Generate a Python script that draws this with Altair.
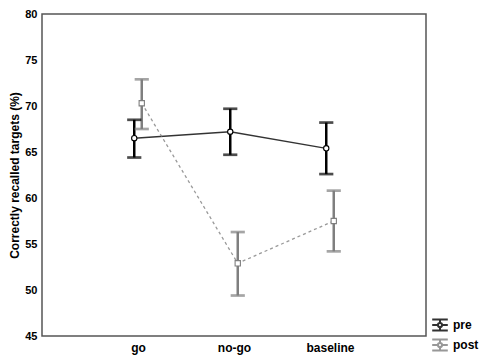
import altair as alt
import pandas as pd

conditions = ["go", "no-go", "baseline"]
phases = ["pre", "post"]
pre_mean = [66.5, 67.2, 65.4]
pre_lo = [64.4, 64.7, 62.6]
pre_hi = [68.5, 69.7, 68.2]
post_mean = [70.3, 52.9, 57.5]
post_lo = [67.5, 49.4, 54.2]
post_hi = [72.9, 56.3, 60.8]

rows = []
for i, c in enumerate(conditions):
    rows.append(dict(cond=c, phase="pre", mean=pre_mean[i], lo=pre_lo[i], hi=pre_hi[i]))
for i, c in enumerate(conditions):
    rows.append(dict(cond=c, phase="post", mean=post_mean[i], lo=post_lo[i], hi=post_hi[i]))
df = pd.DataFrame(rows)

FONT = "Liberation Sans"
glyph = ("M-1.3,-0.9H1.3M-1.3,0.9H1.3M0,-0.9V-0.35M0,0.35V0.9M-1.3,0H-0.35M0.35,0H1.3"
         "M0.35,0A0.35,0.35 0 1,1 -0.35,0A0.35,0.35 0 1,1 0.35,0")

x = alt.X("cond:N", sort=conditions,
          scale=alt.Scale(type="point", padding=1),
          axis=alt.Axis(title=None, labelAngle=0, ticks=False, domain=False,
                        labelFont=FONT, labelFontWeight="bold", labelFontSize=12,
                        labelColor="#000", labelPadding=6))
xoff = alt.XOffset("phase:N", scale=alt.Scale(domain=phases, range=[-7.5, 7.5]))
y_scale = alt.Scale(domain=[45, 80], nice=False, zero=False)
y = alt.Y("mean:Q", scale=y_scale,
          axis=alt.Axis(title="Correctly recalled targets (%)", values=list(range(45, 81, 5)),
                        grid=False, ticks=False, domain=False,
                        labelFont=FONT, labelFontWeight="bold", labelFontSize=11,
                        labelColor="#000", labelPadding=5,
                        titleFont=FONT, titleFontWeight="bold", titleFontSize=12,
                        titleColor="#000", titlePadding=3))

color = alt.Color("phase:N", scale=alt.Scale(domain=phases, range=["#000000", "#7f7f7f"]),
                  legend=alt.Legend(title=None, orient="none", legendX=391, legendY=304,
                                    symbolType=glyph, symbolSize=144, symbolStrokeWidth=2,
                                    symbolFillColor="white", labelFont=FONT,
                                    labelFontWeight="bold", labelFontSize=12,
                                    labelColor="#000", rowPadding=0, labelOffset=6))

base = alt.Chart(df)

line_pre = base.transform_filter(alt.datum.phase == "pre").mark_line(
    strokeWidth=1.4, opacity=0.8).encode(x=x, xOffset=xoff, y=y, color=color)
line_post = base.transform_filter(alt.datum.phase == "post").mark_line(
    strokeWidth=1.3, opacity=0.8, strokeDash=[3, 3]).encode(x=x, xOffset=xoff, y=y, color=color)
bars = base.mark_rule(strokeWidth=2.5).encode(
    x=x, xOffset=xoff, y=alt.Y("lo:Q", scale=y_scale), y2="hi:Q", color=color)
caps_lo = base.mark_tick(size=12, thickness=0.5, filled=False, strokeWidth=2.2).encode(
    x=x, xOffset=xoff, y=alt.Y("lo:Q", scale=y_scale), color=color)
caps_hi = base.mark_tick(size=12, thickness=0.5, filled=False, strokeWidth=2.2).encode(
    x=x, xOffset=xoff, y=alt.Y("hi:Q", scale=y_scale), color=color)
pts_pre = base.transform_filter(alt.datum.phase == "pre").mark_point(
    shape="circle", filled=False, fill="white", fillOpacity=1, strokeWidth=1.1, size=28
).encode(x=x, xOffset=xoff, y=y, color=color)
pts_post = base.transform_filter(alt.datum.phase == "post").mark_point(
    shape="square", filled=False, fill="white", fillOpacity=1, strokeWidth=1.1, size=28
).encode(x=x, xOffset=xoff, y=y, color=color)

chart = alt.layer(line_pre, line_post, bars, caps_lo, caps_hi, pts_pre, pts_post).properties(
    width=384, height=322,
    autosize=alt.AutoSizeParams(type="none"),
    padding={"left": 34, "top": 6, "right": 56, "bottom": 20},
).configure(background="white").configure_view(stroke="#555555", strokeWidth=1.5)

chart.save("out.html", embed_options={"renderer": "svg", "actions": False})
